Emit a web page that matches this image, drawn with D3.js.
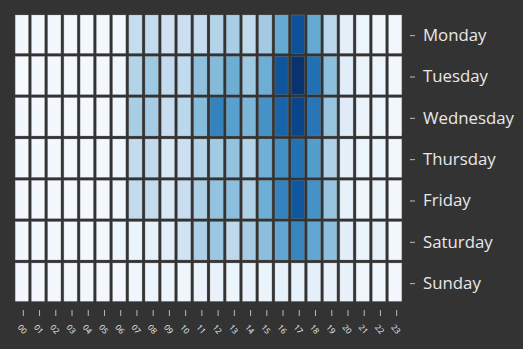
<!DOCTYPE html>
<html>
<head>
<meta charset="utf-8">
<script src="https://cdn.jsdelivr.net/npm/d3@7"></script>
<style>
  html, body { margin: 0; padding: 0; background: #333333; }
  svg { display: block; }
</style>
</head>
<body>
<svg id="chart" width="523" height="349"></svg>
<script>
const hours = ["00","01","02","03","04","05","06","07","08","09","10","11","12","13","14","15","16","17","18","19","20","21","22","23"];
const days = ["Monday","Tuesday","Wednesday","Thursday","Friday","Saturday","Sunday"];

// intensity values per day (index = hour)
const monday    = [2,2,2,2,2,2,3,24,25,20,22,24,31,34,26,36,52,87,52,28,9,5,4,3];
const tuesday   = [1,2,2,2,2,2,4,31,37,25,26,41,44,50,37,50,86,99,75,42,11,6,5,3];
const wednesday = [2,2,2,2,2,2,4,34,35,23,28,43,68,56,46,62,80,92,73,39,12,6,5,3];
const thursday  = [2,2,2,2,2,2,4,25,26,15,21,30,36,40,31,49,63,75,57,32,9,5,6,3];
const friday    = [2,2,2,2,2,2,4,25,25,15,23,33,40,42,32,50,68,85,62,39,8,4,6,3];
const saturday  = [2,2,2,2,2,2,5,6,8,10,19,33,38,27,35,42,53,67,53,42,10,6,8,3];
const sunday    = [3,3,3,3,3,3,3,4,5,5,4,6,7,5,7,6,8,8,9,7,7,4,4,3];
const seriesByDay = [monday, tuesday, wednesday, thursday, friday, saturday, sunday];

const svg = d3.select("#chart");

const x = d3.scaleBand().domain(hours).range([15.2, 404.8]).padding(0);
const y = d3.scaleBand().domain(days).range([15, 304.3]).padding(0);
const color = d3.scaleSequential(d3.interpolateBlues).domain([0, 100]);

const gap = 3;
const cells = [];
days.forEach((d, i) => {
  seriesByDay[i].forEach((v, j) => cells.push({ day: d, hour: hours[j], value: v }));
});

svg.append("g")
  .selectAll("rect")
  .data(cells)
  .join("rect")
  .attr("x", d => x(d.hour))
  .attr("y", d => y(d.day))
  .attr("width", x.bandwidth() - gap)
  .attr("height", y.bandwidth() - gap)
  .attr("fill", d => color(d.value))
  .attr("stroke", "#999")
  .attr("stroke-opacity", 0.45)
  .attr("stroke-width", 0.6);

// Right axis (days)
const yAxis = svg.append("g")
  .attr("transform", "translate(410,0)")
  .call(d3.axisRight(y).tickSize(5).tickPadding(8));
yAxis.select(".domain").remove();
yAxis.selectAll(".tick line").attr("stroke", "#bbbbbb");
yAxis.selectAll(".tick text")
  .attr("fill", "#e8e8e8")
  .style("font-family", "'Open Sans', 'Noto Sans', sans-serif")
  .style("font-size", "16.8px");

// Bottom axis (hours)
const xAxis = svg.append("g")
  .attr("transform", "translate(0,310)")
  .call(d3.axisBottom(x).tickSize(6).tickPadding(0));
xAxis.select(".domain").remove();
xAxis.selectAll(".tick line").attr("stroke", "#bbbbbb");
xAxis.selectAll(".tick text")
  .attr("fill", "#f0f0f0")
  .attr("y", 0)
  .attr("dy", 0)
  .attr("text-anchor", "middle")
  .attr("transform", "translate(-3,21) rotate(50)")
  .style("font-family", "'Open Sans', 'Noto Sans', sans-serif")
  .style("font-size", "8px");
</script>
</body>
</html>
